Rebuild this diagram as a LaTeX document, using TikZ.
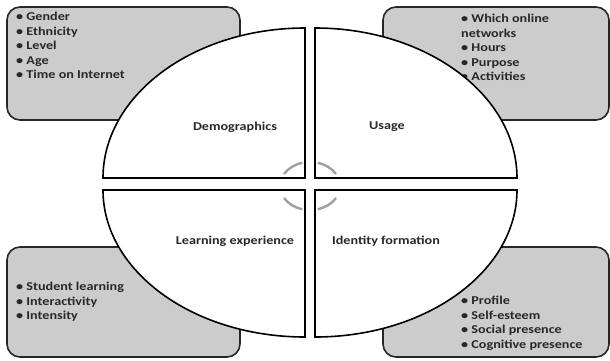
\documentclass[tikz,border=0pt]{standalone}
\usepackage{fontspec}
\setmainfont{Carlito}[FakeStretch=1.18]
\usetikzlibrary{calc}

\definecolor{boxgray}{RGB}{204,204,204}
\definecolor{arcgray}{RGB}{160,160,160}
\definecolor{textgray}{RGB}{40,40,40}

\begin{document}
\begin{tikzpicture}[x=1pt,y=-1pt,
  list box/.style={draw=black!85,line width=1.6pt,fill=boxgray,rounded corners=13pt},
  quarter/.style={draw=black,line width=1.6pt,fill=white},
  list node/.style={align=left,anchor=north west,inner sep=0pt,text=textgray,
    font=\bfseries\fontsize{12}{14.5}\selectfont},
  quad label/.style={inner sep=0pt,text=textgray,font=\bfseries\fontsize{12}{14.5}\selectfont},
  turn arc/.style={draw=arcgray,line width=2.4pt}]
  \useasboundingbox (0,0) rectangle (610,360);

  % grey boxes behind the quarters
  \draw[list box] (7,7) rectangle (240,120);
  \draw[list box] (383,7) rectangle (609,120);
  \draw[list box] (7,247) rectangle (240,357);
  \draw[list box] (383,247) rectangle (609,357);

  \node[list node] (demo list) at (16,12)
    {\textbullet\ Gender\\\textbullet\ Ethnicity\\\textbullet\ Level\\\textbullet\ Age\\\textbullet\ Time on Internet};
  \node[list node] (usage list) at (461,14)
    {\textbullet\ Which online\\networks\\\textbullet\ Hours\\\textbullet\ Purpose\\\textbullet\ Activities};
  \node[list node] (learn list) at (16,282)
    {\textbullet\ Student learning\\\textbullet\ Interactivity\\\textbullet\ Intensity};
  \node[list node] (ident list) at (461,296)
    {\textbullet\ Profile\\\textbullet\ Self-esteem\\\textbullet\ Social presence\\\textbullet\ Cognitive presence};

  % the four quarters
  \draw[quarter] (305,178) -- (103,178) arc[start angle=180,end angle=270,x radius=202,y radius=150] -- cycle;
  \draw[quarter] (315,178) -- (315,28) arc[start angle=270,end angle=360,x radius=202,y radius=150] -- cycle;
  \draw[quarter] (305,190) -- (103,190) arc[start angle=180,end angle=90,x radius=202,y radius=147] -- cycle;
  \draw[quarter] (315,190) -- (517,190) arc[start angle=0,end angle=90,x radius=202,y radius=147] -- cycle;

  % turning arcs in the middle
  \foreach \a/\b in {210/255,285/330,30/75,105/150}
    \draw[turn arc] ($(310,186)+(\a:30 and 24)$) arc[start angle=\a,end angle=\b,x radius=30,y radius=24];

  \node[quad label] (demo) at (235,127) {Demographics};
  \node[quad label] (usage) at (387,127) {Usage};
  \node[quad label] (learn) at (235,241) {Learning experience};
  \node[quad label] (ident) at (386,241) {Identity formation};
\end{tikzpicture}
\end{document}
